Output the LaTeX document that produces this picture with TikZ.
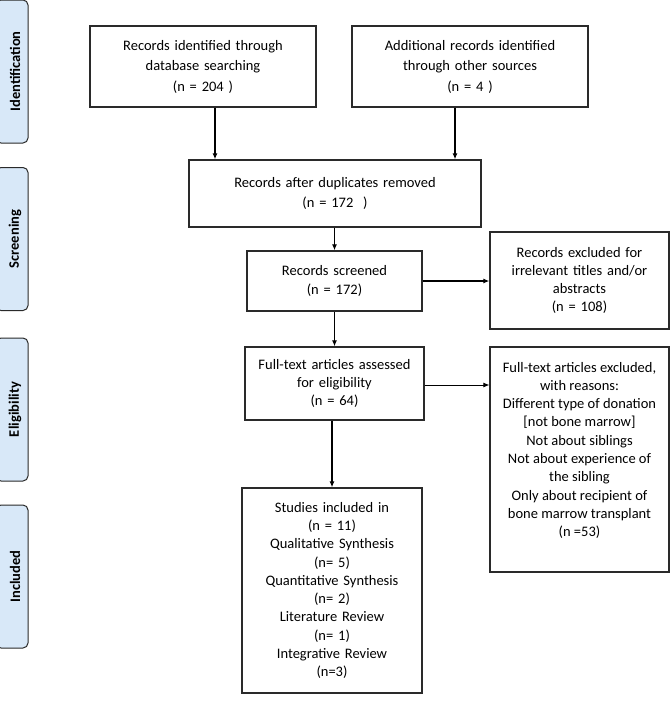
\documentclass[tikz,border=0pt]{standalone}
\usepackage{fontspec}
\setmainfont{Carlito}
\usetikzlibrary{arrows.meta}
\definecolor{tabfill}{HTML}{D8E8F8}
\definecolor{edge}{HTML}{2A2A2A}
\tikzset{
  box/.style={draw=edge, line width=1.3pt, fill=white, inner sep=0pt, align=center,
    font=\fontsize{14.5}{18.3}\selectfont},
  topbox/.style={box, font=\fontsize{14.5}{20.5}\selectfont},
  tab/.style={draw=edge, line width=1pt, fill=tabfill, rounded corners=5pt, inner sep=0pt,
    minimum width=32pt, minimum height=143pt},
  tablabel/.style={font=\fontsize{14.5}{16}\selectfont\bfseries, rotate=90},
  arr/.style={draw=black, line width=1.3pt, -{Latex[length=6pt,width=5pt]}},
  thinarr/.style={draw=black, line width=0.8pt, -{Latex[length=6pt,width=5pt]}}
}
\begin{document}
\begin{tikzpicture}[x=1pt,y=-1pt]
\useasboundingbox[fill=white] (0,0) rectangle (671,720);
% side tabs
\node[tab] (t1) at (12,71.5) {};
\node[tablabel] (l1) at (15,71.5) {Identification};
\node[tab] (t2) at (12,239) {};
\node[tablabel] (l2) at (15,239) {Screening};
\node[tab] (t3) at (12,409.5) {};
\node[tablabel] (l3) at (15,409.5) {Eligibility};
\node[tab] (t4) at (12,576.5) {};
\node[tablabel] (l4) at (15,576.5) {Included};
% boxes
\node[topbox, minimum width=226pt, minimum height=81pt, text width=216pt] (A) at (203,66.5)
  {Records identified through\\database searching\\(n = 204 )};
\node[topbox, minimum width=236pt, minimum height=81pt, text width=226pt] (B) at (470,66.5)
  {Additional records identified\\through other sources\\(n = 4 )};
\node[topbox, minimum width=292pt, minimum height=67pt, text width=282pt] (C) at (335,193.5)
  {Records after duplicates removed\\(n = 172\ \ )};
\node[box, minimum width=175pt, minimum height=60pt, text width=165pt] (D) at (334.5,281)
  {Records screened\\(n = 172)};
\node[box, minimum width=179pt, minimum height=97pt, text width=170pt] (E) at (579.5,280.5)
  {Records excluded for\\irrelevant titles and/or\\abstracts\\(n = 108)};
\node[box, minimum width=179pt, minimum height=73pt, text width=170pt] (F) at (334.5,383.5)
  {Full-text articles assessed\\for eligibility\\(n = 64)};
\node[box, minimum width=179pt, minimum height=225pt] (G) at (579.5,459.5)
  {\parbox[c][211pt][t]{172pt}{\centering\vspace*{8pt}Full-text articles excluded,\\with reasons:\\Different type of donation\\{[not bone marrow]}\\Not about siblings\\Not about experience of\\the sibling\\Only about recipient of\\bone marrow transplant\\(n =53)}};
\node[box, minimum width=180pt, minimum height=205pt, text width=170pt] (H) at (332,590.5)
  {Studies included in\\(n = 11)\\Qualitative Synthesis\\(n= 5)\\Quantitative Synthesis\\(n= 2)\\Literature Review\\(n= 1)\\Integrative Review\\(n=3)};
% connectors
\draw[arr] ([xshift=12pt]A.south) -- ([xshift=12pt]A.south |- C.north);
\draw[arr] ([xshift=-15pt]B.south) -- ([xshift=-15pt]B.south |- C.north);
\draw[arr] (C.south -| D.north) -- (D.north);
\draw[arr] (D.east) -- (D.east -| E.west);
\draw[arr] (D.south) -- (D.south |- F.north);
\draw[thinarr] ([yshift=-1.5pt]F.east) -- ([yshift=-1.5pt]F.east -| G.west);
\draw[arr] (F.south -| H.north) -- (H.north);
\end{tikzpicture}
\end{document}
